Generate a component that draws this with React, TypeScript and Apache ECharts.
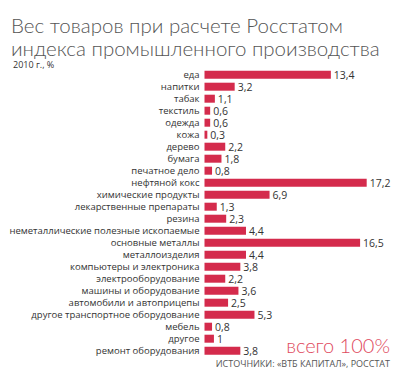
import React, { useEffect, useRef } from "react";
import * as echarts from "echarts";

const categories = [
  "еда", "напитки", "табак", "текстиль", "одежда", "кожа", "дерево", "бумага",
  "печатное дело", "нефтяной кокс", "химические продукты", "лекарственные препараты",
  "резина", "неметаллические полезные ископаемые", "основные металлы", "металлоизделия",
  "компьютеры и электроника", "электрооборудование", "машины и оборудование",
  "автомобили и автоприцепы", "другое транспортное оборудование", "мебель", "другое",
  "ремонт оборудования",
];
const values = [13.4, 3.2, 1.1, 0.6, 0.6, 0.3, 2.2, 1.8, 0.8, 17.2, 6.9, 1.3, 2.3, 4.4, 16.5, 4.4, 3.8, 2.2, 3.6, 2.5, 5.3, 0.8, 1, 3.8];

const titleLines = ["Вес товаров при расчете Росстатом", "индекса промышленного производства"];
const subtitle = "2010 г., %";
const totalText = "всего 100%";
const sourceText = "ИСТОЧНИКИ: «ВТБ КАПИТАЛ», РОССТАТ";

export default function App() {
  const ref = useRef<HTMLDivElement>(null);
  useEffect(() => {
    if (!ref.current) return;
    const chart = echarts.init(ref.current, null, { renderer: "svg" });
    const font = "'Open Sans', 'Noto Sans', sans-serif";
    chart.setOption({
      animation: false,
      backgroundColor: "#ffffff",
      grid: { left: 204.5, top: 68.7, width: 188.6, height: 288, containLabel: false },
      xAxis: { type: "value", min: 0, max: 20, show: false },
      yAxis: {
        type: "category",
        data: categories,
        inverse: true,
        axisLine: { show: false },
        axisTick: { show: false },
        axisLabel: { interval: 0, color: "#333", fontSize: 9.5, lineHeight: 11, fontFamily: font, margin: 5 },
      },
      series: [
        {
          type: "bar",
          data: values,
          barWidth: 8,
          itemStyle: { color: "#d42b4c" },
          label: {
            show: true,
            position: "right",
            distance: 3,
            color: "#333",
            fontSize: 10.5,
            lineHeight: 11,
            fontFamily: font,
            formatter: (p: any) => String(p.value).replace(".", ","),
          },
        },
      ],
      graphic: [
        { type: "text", left: 11, top: 14, style: { text: titleLines[0], fontSize: 20.5, fontWeight: 300, fontFamily: "Lato, sans-serif", fill: "#555" } },
        { type: "text", left: 11, top: 37, style: { text: titleLines[1], fontSize: 20.5, fontWeight: 300, fontFamily: "Lato, sans-serif", fill: "#555" } },
        { type: "text", left: 13, top: 60, style: { text: subtitle, fontSize: 9, fontFamily: font, fill: "#333" } },
        { type: "text", right: 15, top: 335, style: { text: totalText, fontSize: 20, fontWeight: 300, fontFamily: "Lato, sans-serif", fill: "#e04a5e" } },
        { type: "text", right: 15, top: 359, style: { text: sourceText, fontSize: 9, fontFamily: font, fill: "#555" } },
      ],
    });
    return () => chart.dispose();
  }, []);
  return <div ref={ref} style={{ width: 405, height: 380, position: "absolute", left: 0, top: 0 }} />;
}
